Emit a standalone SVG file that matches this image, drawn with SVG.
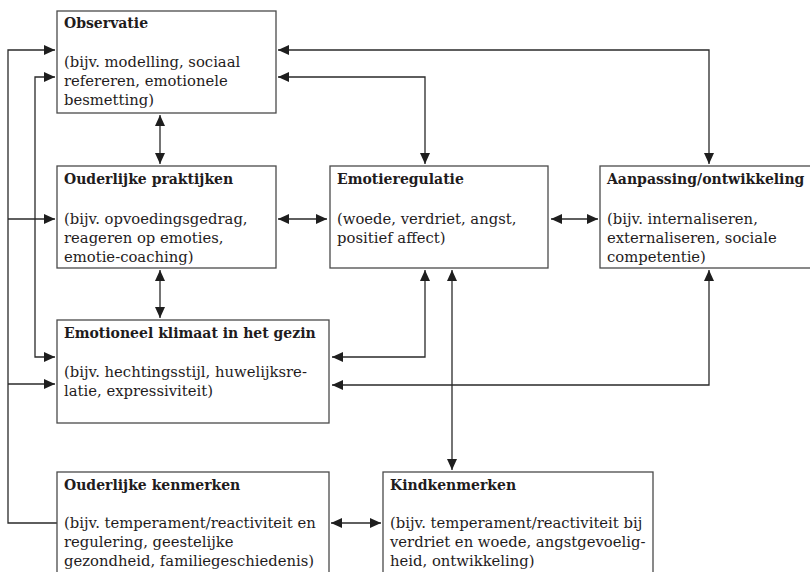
<svg xmlns="http://www.w3.org/2000/svg" width="810" height="572" viewBox="0 0 810 572">
<defs>
<marker id="ah" markerUnits="userSpaceOnUse" markerWidth="11" markerHeight="10" refX="11" refY="5" orient="auto-start-reverse">
<path d="M0,0 L11,5 L0,10 z" fill="#1e1e1e"/>
</marker>
<style>
.box{fill:#fff;stroke:#4a4a4a;stroke-width:1.3}
.t{font-family:"DejaVu Serif","Liberation Serif",serif;fill:#1f1c1d}
.h{font-size:14px;font-weight:bold}
.b{font-size:14.8px}
.c{fill:none;stroke:#2a2a2a;stroke-width:1.3}
.a2{marker-start:url(#ah);marker-end:url(#ah)}
.a1{marker-end:url(#ah)}
</style>
</defs>
<rect width="810" height="572" fill="#fff"/>
<g id="connectors">
<path class="c a1" d="M57,523 H8 V50 H55"/>
<path class="c a1" d="M8,219 H55"/>
<path class="c a1" d="M8,384 H55"/>
<path class="c a2" d="M55,77 H35 V357 H55"/>
<path class="c a2" d="M278,50 H709 V164"/>
<path class="c a2" d="M278,77 H425 V164"/>
<path class="c a2" d="M160,115 V164"/>
<path class="c a2" d="M278,219 H327"/>
<path class="c a2" d="M551,219 H598"/>
<path class="c a2" d="M160,270 V318"/>
<path class="c a2" d="M425,270 V357 H332"/>
<path class="c a2" d="M709,270 V385 H332"/>
<path class="c a2" d="M452,270 V470"/>
<path class="c a2" d="M331,523 H381"/>
</g>
<g id="observatie">
<rect class="box" x="57" y="11" width="219" height="102"/>
<text class="t h" x="64" y="28">Observatie</text>
<text class="t b" x="64" y="67">(bijv. modelling, sociaal</text>
<text class="t b" x="64" y="86">refereren, emotionele</text>
<text class="t b" x="64" y="105">besmetting)</text>
</g>
<g id="ouderlijke-praktijken">
<rect class="box" x="57" y="166" width="219" height="102"/>
<text class="t h" x="64" y="184">Ouderlijke praktijken</text>
<text class="t b" x="64" y="224">(bijv. opvoedingsgedrag,</text>
<text class="t b" x="64" y="243">reageren op emoties,</text>
<text class="t b" x="64" y="262">emotie-coaching)</text>
</g>
<g id="emotieregulatie">
<rect class="box" x="330" y="166" width="218" height="102"/>
<text class="t h" x="337" y="184">Emotieregulatie</text>
<text class="t b" x="337" y="224">(woede, verdriet, angst,</text>
<text class="t b" x="337" y="243">positief affect)</text>
</g>
<g id="aanpassing">
<rect class="box" x="600" y="166" width="214" height="102"/>
<text class="t h" x="607" y="184">Aanpassing/ontwikkeling</text>
<text class="t b" x="607" y="224">(bijv. internaliseren,</text>
<text class="t b" x="607" y="243">externaliseren, sociale</text>
<text class="t b" x="607" y="262">competentie)</text>
</g>
<g id="emotioneel-klimaat">
<rect class="box" x="57" y="320" width="272" height="103"/>
<text class="t h" x="64" y="338">Emotioneel klimaat in het gezin</text>
<text class="t b" x="64" y="377">(bijv. hechtingsstijl, huwelijksre-</text>
<text class="t b" x="64" y="396">latie, expressiviteit)</text>
</g>
<g id="ouderlijke-kenmerken">
<rect class="box" x="57" y="472" width="272" height="112"/>
<text class="t h" x="64" y="490">Ouderlijke kenmerken</text>
<text class="t b" x="64" y="528">(bijv. temperament/reactiviteit en</text>
<text class="t b" x="64" y="547">regulering, geestelijke</text>
<text class="t b" x="64" y="566">gezondheid, familiegeschiedenis)</text>
</g>
<g id="kindkenmerken">
<rect class="box" x="383" y="472" width="270" height="112"/>
<text class="t h" x="390" y="490">Kindkenmerken</text>
<text class="t b" x="390" y="528">(bijv. temperament/reactiviteit bij</text>
<text class="t b" x="390" y="547">verdriet en woede, angstgevoelig-</text>
<text class="t b" x="390" y="566">heid, ontwikkeling)</text>
</g>
</svg>
